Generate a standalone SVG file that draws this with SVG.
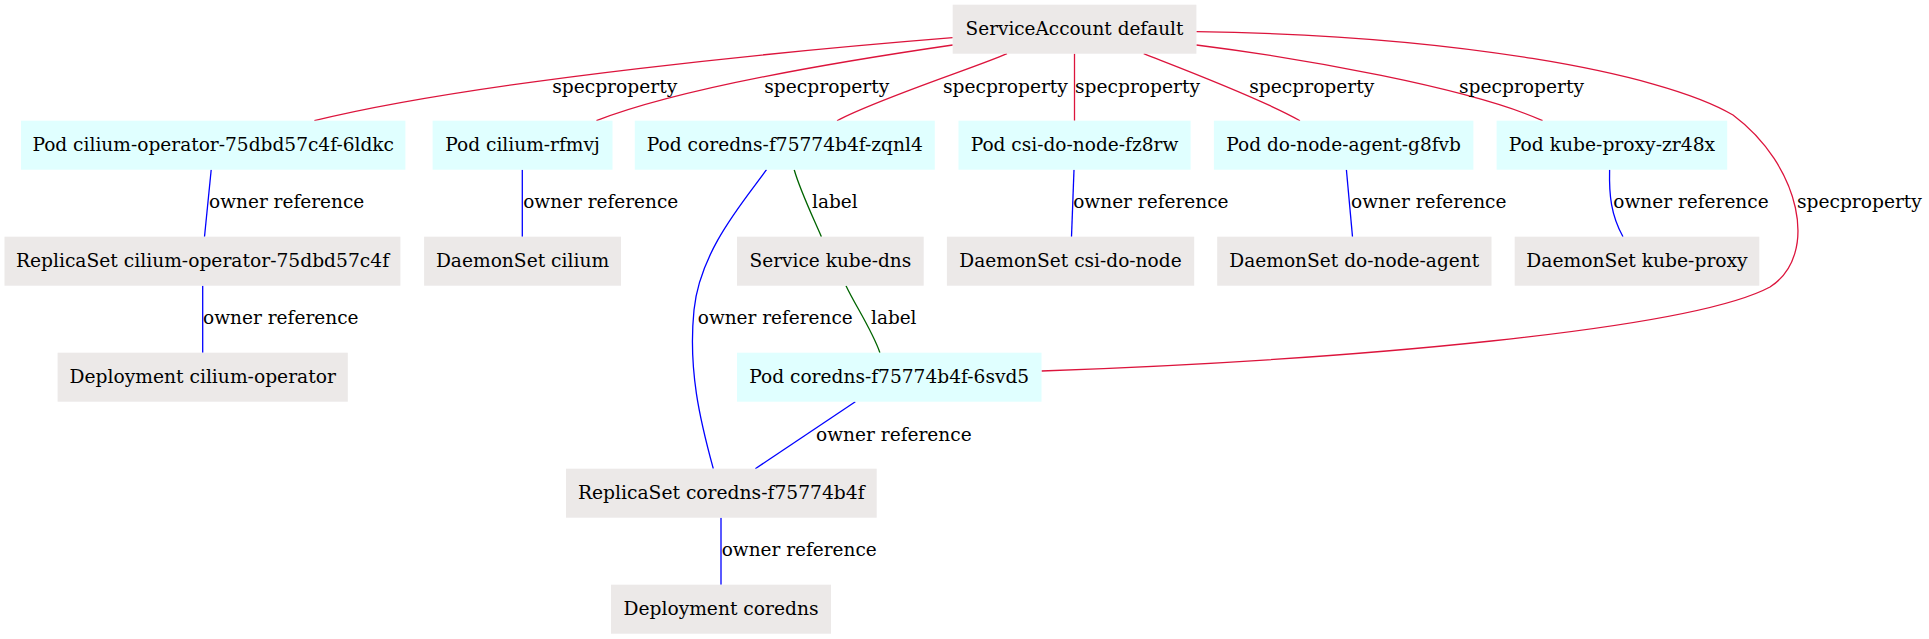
<svg xmlns="http://www.w3.org/2000/svg" width="1929" height="639" viewBox="0 0 1929 639">
<style>
text{font-family:"DejaVu Serif","Liberation Serif",serif;font-size:18.67px;fill:#000}
.n text{text-anchor:middle}
.pod rect{fill:#e0ffff}
.oth rect{fill:#ece9e8}
.e path{fill:none;stroke-width:1.3}
.r{stroke:#dc143c}
.b{stroke:#0000ff}
.g{stroke:#006400}
</style>
<rect width="1929" height="639" fill="#fff"/>
<g id="edges" class="e">
<path class="r" d="M952.7,37.7 C800,50 480,80 314.3,120.7"/>
<path class="r" d="M952.7,45 C850,60 680,88 596.4,120.7"/>
<path class="r" d="M1007,53.7 C980,66 880,98 837,120.7"/>
<path class="r" d="M1074.5,53.7 L1074.5,120.7"/>
<path class="r" d="M1143.7,53.7 C1180,68 1260,98 1300,120.7"/>
<path class="r" d="M1196.4,45 C1300,58 1470,88 1542.6,120.7"/>
<path class="r" d="M1196.4,31.7 C1450,35 1660,72 1733,115 C1800,165 1820,255 1770,287 C1690,330 1350,360 1041.5,371"/>
<path class="b" d="M211.2,169.7 L204.5,236.7"/>
<path class="b" d="M522.3,169.7 L522.3,236.7"/>
<path class="b" d="M202.7,285.7 L202.7,352.7"/>
<path class="b" d="M766.5,169.7 C745,200 700,250 694,310 C688,370 700,420 713.3,468.7"/>
<path class="g" d="M794.2,169.7 C800,190 812,215 821.4,236.7"/>
<path class="g" d="M846,285.7 C855,305 872,330 879.9,352.7"/>
<path class="b" d="M1074,169.7 L1071.5,236.7"/>
<path class="b" d="M1346.4,169.7 L1352.5,236.7"/>
<path class="b" d="M1609.6,169.7 C1609,195 1611,215 1623,236.7"/>
<path class="b" d="M855.3,401.7 L755.3,468.7"/>
<path class="b" d="M721,517.7 L721,584.7"/>
<text x="552.2" y="93" textLength="125" lengthAdjust="spacingAndGlyphs">specproperty</text>
<text x="764.3" y="93" textLength="125" lengthAdjust="spacingAndGlyphs">specproperty</text>
<text x="942.9" y="93" textLength="125" lengthAdjust="spacingAndGlyphs">specproperty</text>
<text x="1075" y="93" textLength="125" lengthAdjust="spacingAndGlyphs">specproperty</text>
<text x="1249.3" y="93" textLength="125" lengthAdjust="spacingAndGlyphs">specproperty</text>
<text x="1459" y="93" textLength="125" lengthAdjust="spacingAndGlyphs">specproperty</text>
<text x="1796.9" y="208" textLength="125" lengthAdjust="spacingAndGlyphs">specproperty</text>
<text x="209" y="208" textLength="155.3" lengthAdjust="spacingAndGlyphs">owner reference</text>
<text x="523.2" y="208" textLength="155" lengthAdjust="spacingAndGlyphs">owner reference</text>
<text x="812" y="208" textLength="45.6" lengthAdjust="spacingAndGlyphs">label</text>
<text x="1073.2" y="208" textLength="155.4" lengthAdjust="spacingAndGlyphs">owner reference</text>
<text x="1351.1" y="208" textLength="155.3" lengthAdjust="spacingAndGlyphs">owner reference</text>
<text x="1613.3" y="208" textLength="155.3" lengthAdjust="spacingAndGlyphs">owner reference</text>
<text x="203.1" y="324" textLength="155.4" lengthAdjust="spacingAndGlyphs">owner reference</text>
<text x="697.8" y="324" textLength="154.9" lengthAdjust="spacingAndGlyphs">owner reference</text>
<text x="871" y="324" textLength="45.5" lengthAdjust="spacingAndGlyphs">label</text>
<text x="816" y="440.5" textLength="155.7" lengthAdjust="spacingAndGlyphs">owner reference</text>
<text x="721.7" y="556" textLength="155" lengthAdjust="spacingAndGlyphs">owner reference</text>
</g>
<g id="sa-default" class="n oth"><rect x="952.7" y="4.7" width="243.7" height="49"/><text x="1074.5" y="35" textLength="217.8" lengthAdjust="spacingAndGlyphs">ServiceAccount default</text></g>
<g id="pod-cilium-operator" class="n pod"><rect x="21" y="120.7" width="384.4" height="49"/><text x="213.2" y="151" textLength="361.6" lengthAdjust="spacingAndGlyphs">Pod cilium-operator-75dbd57c4f-6ldkc</text></g>
<g id="pod-cilium-rfmvj" class="n pod"><rect x="432.6" y="120.7" width="179.9" height="49"/><text x="522.5" y="151" textLength="154.5" lengthAdjust="spacingAndGlyphs">Pod cilium-rfmvj</text></g>
<g id="pod-coredns-zqnl4" class="n pod"><rect x="634.8" y="120.7" width="300" height="49"/><text x="784.8" y="151" textLength="276" lengthAdjust="spacingAndGlyphs">Pod coredns-f75774b4f-zqnl4</text></g>
<g id="pod-csi-do-node" class="n pod"><rect x="958.5" y="120.7" width="232.1" height="49"/><text x="1074.5" y="151" textLength="207.6" lengthAdjust="spacingAndGlyphs">Pod csi-do-node-fz8rw</text></g>
<g id="pod-do-node-agent" class="n pod"><rect x="1213.9" y="120.7" width="259.5" height="49"/><text x="1343.6" y="151" textLength="234.7" lengthAdjust="spacingAndGlyphs">Pod do-node-agent-g8fvb</text></g>
<g id="pod-kube-proxy" class="n pod"><rect x="1496.6" y="120.7" width="230.6" height="49"/><text x="1611.9" y="151" textLength="206.4" lengthAdjust="spacingAndGlyphs">Pod kube-proxy-zr48x</text></g>
<g id="rs-cilium-operator" class="n oth"><rect x="4.5" y="236.7" width="395.9" height="49"/><text x="202.5" y="267" textLength="373.2" lengthAdjust="spacingAndGlyphs">ReplicaSet cilium-operator-75dbd57c4f</text></g>
<g id="ds-cilium" class="n oth"><rect x="424.1" y="236.7" width="196.9" height="49"/><text x="522.5" y="267" textLength="173.2" lengthAdjust="spacingAndGlyphs">DaemonSet cilium</text></g>
<g id="svc-kube-dns" class="n oth"><rect x="737" y="236.7" width="186.7" height="49"/><text x="830.4" y="267" textLength="161.6" lengthAdjust="spacingAndGlyphs">Service kube-dns</text></g>
<g id="ds-csi-do-node" class="n oth"><rect x="946.9" y="236.7" width="247.3" height="49"/><text x="1070.5" y="267" textLength="222.3" lengthAdjust="spacingAndGlyphs">DaemonSet csi-do-node</text></g>
<g id="ds-do-node-agent" class="n oth"><rect x="1217.2" y="236.7" width="274.3" height="49"/><text x="1354.3" y="267" textLength="250" lengthAdjust="spacingAndGlyphs">DaemonSet do-node-agent</text></g>
<g id="ds-kube-proxy" class="n oth"><rect x="1514.7" y="236.7" width="244.6" height="49"/><text x="1637" y="267" textLength="221.3" lengthAdjust="spacingAndGlyphs">DaemonSet kube-proxy</text></g>
<g id="deploy-cilium-operator" class="n oth"><rect x="57.6" y="352.7" width="290.2" height="49"/><text x="202.7" y="383" textLength="266.5" lengthAdjust="spacingAndGlyphs">Deployment cilium-operator</text></g>
<g id="pod-coredns-6svd5" class="n pod"><rect x="737" y="352.7" width="304.5" height="49"/><text x="889.2" y="383" textLength="280" lengthAdjust="spacingAndGlyphs">Pod coredns-f75774b4f-6svd5</text></g>
<g id="rs-coredns" class="n oth"><rect x="566" y="468.7" width="310.7" height="49"/><text x="721.3" y="499" textLength="286.7" lengthAdjust="spacingAndGlyphs">ReplicaSet coredns-f75774b4f</text></g>
<g id="deploy-coredns" class="n oth"><rect x="611" y="584.7" width="220" height="49"/><text x="721" y="615" textLength="195" lengthAdjust="spacingAndGlyphs">Deployment coredns</text></g>
</svg>
